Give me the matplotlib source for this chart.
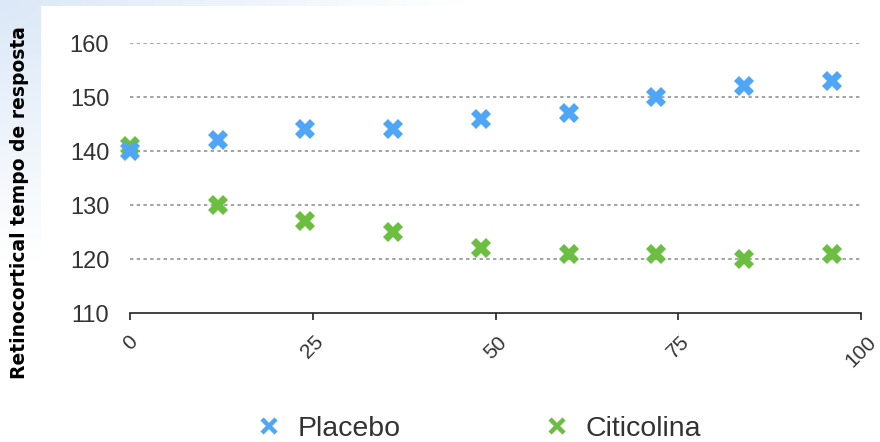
import numpy as np
import matplotlib
matplotlib.use("Agg")
import matplotlib.pyplot as plt
from matplotlib.lines import Line2D
from matplotlib.patches import Rectangle

# ---- data ----
months = [0, 12, 24, 36, 48, 60, 72, 84, 96]
placebo = [140, 142, 144, 144, 146, 147, 150, 152, 153]
citicolina = [141, 130, 127, 125, 122, 121, 121, 120, 121]
series_names = ["Placebo", "Citicolina"]
x_ticks = [0, 25, 50, 75, 100]
y_ticks = [110, 120, 130, 140, 150, 160]
y_label = "Retinocortical tempo de resposta"

BLUE = "#4FA6F6"
GREEN = "#6BBE3F"

W, H = 880, 442
fig = plt.figure(figsize=(W / 100, H / 100), dpi=100)

# background gradient (light blue in top-left corner fading to white)
bg = fig.add_axes([0, 0, 1, 1], zorder=-10)
bg.set_axis_off()
yy, xx = np.mgrid[0:H, 0:W]
r = np.sqrt((xx / 1.8) ** 2 + (yy * 1.0) ** 2)
t = np.clip(r / 260.0, 0, 1)
c0 = np.array([0.86, 0.91, 0.97])
c1 = np.array([1.0, 1.0, 1.0])
img = c0[None, None, :] * (1 - t[..., None]) + c1[None, None, :] * t[..., None]
bg.imshow(img, extent=[0, W, H, 0], aspect="auto")
bg.add_patch(Rectangle((41, 6), W - 41, H - 6, facecolor="white", edgecolor="none"))
bg.set_xlim(0, W)
bg.set_ylim(H, 0)

ax = fig.add_axes([130 / W, 1 - 313 / H, (861 - 130) / W, (313 - 43) / H])
ax.patch.set_alpha(0)
ax.set_xlim(0, 100)
ax.set_ylim(110, 160)

for y in y_ticks[1:]:
    ax.axhline(y, color="#8a8a8a", lw=1.1, ls=(0, (2.2, 2.2)), zorder=1)

ax.plot(months, citicolina, ls="none", marker="X", ms=14.5, color=GREEN,
        markeredgewidth=0, clip_on=False, zorder=2)
ax.plot(months, placebo, ls="none", marker="X", ms=14.5, color=BLUE,
        markeredgewidth=0, clip_on=False, zorder=3)
for s in ["top", "right", "left"]:
    ax.spines[s].set_visible(False)
ax.spines["bottom"].set_color("#222222")
ax.spines["bottom"].set_linewidth(1.2)

ax.set_xticks(x_ticks)
ax.set_xticklabels([str(v) for v in x_ticks], rotation=45, ha="center", va="top",
                   fontsize=15, color="#333333", family="Liberation Sans")
ax.tick_params(axis="x", direction="out", length=5, width=1.2, color="#222222", pad=9)
ax.set_yticks(y_ticks)
ax.set_yticklabels([str(v) for v in y_ticks], fontsize=17, color="#333333",
                   family="Liberation Sans")
ax.tick_params(axis="y", length=0, pad=15)

fig.text(20 / W, 1 - 203 / H, y_label, rotation=90, ha="center", va="center",
         fontsize=13.5, fontweight="bold", family="DejaVu Sans", color="black")

handles = [Line2D([], [], ls="none", marker="x", ms=10, mew=3.2, color=c)
           for c in (BLUE, GREEN)]
fig.legend(handles, series_names, loc="center", bbox_to_anchor=(0.543, 1 - 429 / H),
           ncol=2, frameon=False, handlelength=1.0, handletextpad=0.5,
           columnspacing=5.0, borderpad=0.2,
           prop={"family": "Liberation Sans", "size": 20.5},
           labelcolor="#333333")

fig.savefig("out.png", dpi=100)
